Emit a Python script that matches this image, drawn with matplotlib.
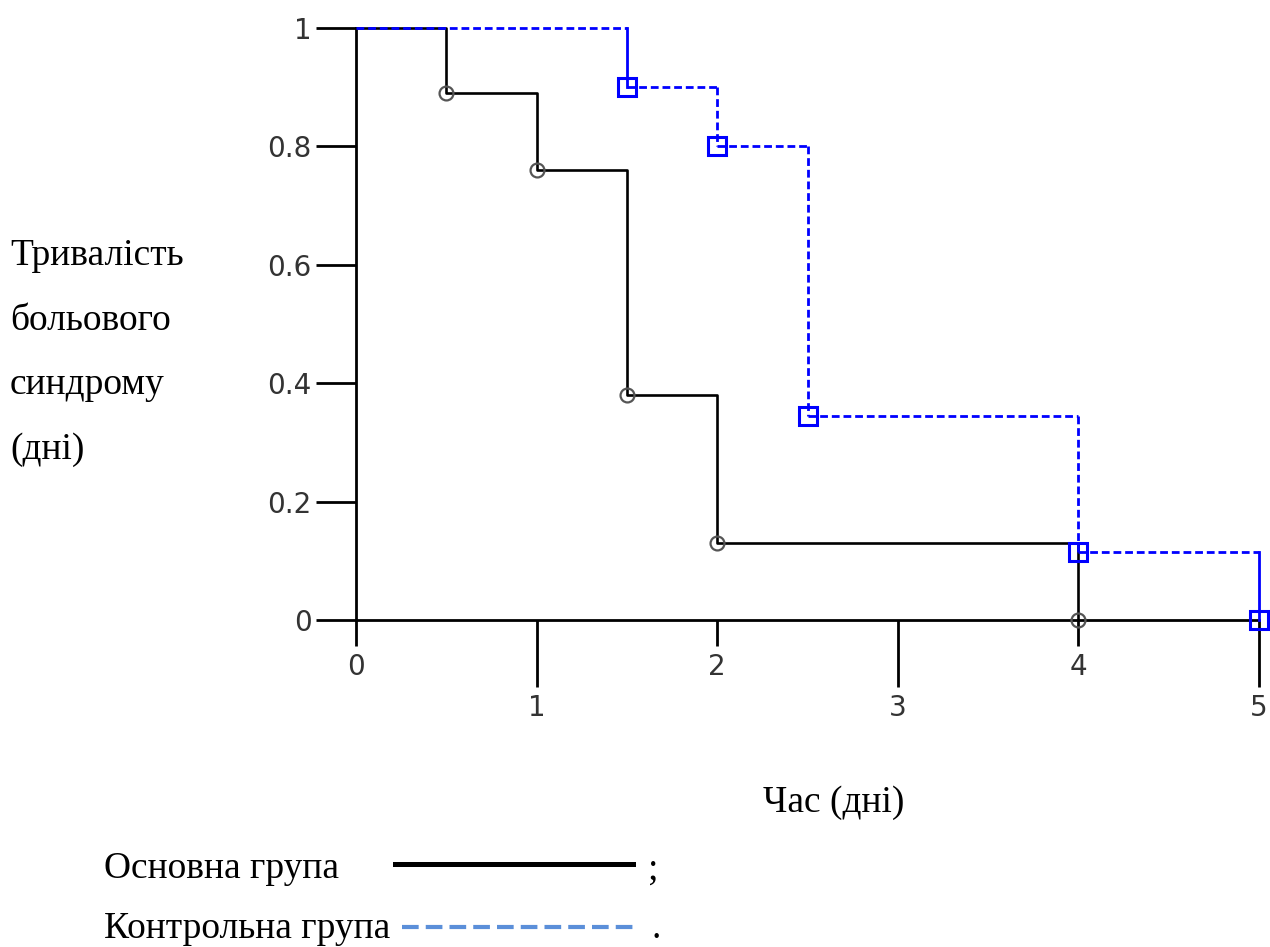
import numpy as np
import matplotlib.pyplot as plt
from matplotlib.lines import Line2D
from matplotlib.ticker import FixedLocator, FixedFormatter

# survival steps
main_t = [0, 0.5, 1, 1.5, 2, 4]
main_s = [1, 0.89, 0.76, 0.38, 0.13, 0]
ctrl_t = [0, 1.5, 2, 2.5, 4, 5]
ctrl_s = [1, 0.9, 0.8, 0.345, 0.115, 0]

ylabel_lines = ["Тривалість", "больового", "синдрому", "(дні)"]
xlabel = "Час (дні)"
legend_names = ["Основна група", "Контрольна група"]

W, H = 1270, 947
fig = plt.figure(figsize=(W / 100, H / 100), dpi=100)
ax = fig.add_axes([356 / W, (H - 620) / H, 903 / W, 592 / H])
ax.set_xlim(0, 5)
ax.set_ylim(0, 1)
ax.patch.set_visible(False)

for side in ["top", "right"]:
    ax.spines[side].set_visible(False)
for side in ["left", "bottom"]:
    ax.spines[side].set_linewidth(2)

tick_col = "#333333"
# y ticks
ax.yaxis.set_major_locator(FixedLocator([0, 0.2, 0.4, 0.6, 0.8, 1]))
ax.yaxis.set_major_formatter(FixedFormatter(["0", "0.2", "0.4", "0.6", "0.8", "1"]))
ax.tick_params(axis="y", direction="out", length=29, width=2, pad=3,
               labelsize=20, labelcolor=tick_col)

# x ticks: even ones short, odd ones long
ax.xaxis.set_major_locator(FixedLocator([0, 2, 4]))
ax.xaxis.set_major_formatter(FixedFormatter(["0", "2", "4"]))
ax.xaxis.set_minor_locator(FixedLocator([1, 3, 5]))
ax.xaxis.set_minor_formatter(FixedFormatter(["1", "3", "5"]))
ax.tick_params(axis="x", which="major", direction="out", length=19, width=2,
               pad=5, labelsize=20, labelcolor=tick_col)
ax.tick_params(axis="x", which="minor", direction="out", length=48, width=2,
               pad=5, labelsize=20, labelcolor=tick_col)
for lab in ax.get_yticklabels():
    lab.set_family("DejaVu Sans")
for lab in ax.get_xticklabels(which="both"):
    lab.set_family("DejaVu Sans")

# main group - solid black steps
ax.step(main_t, main_s, where="post", color="black", lw=1.9, clip_on=False, zorder=3)
ax.plot(main_t[1:], main_s[1:], "o", ms=10, mfc="none", mec="#555555", mew=1.6,
        clip_on=False, zorder=4)

# control group - blue, dashed horizontals, first and last drops solid
blue = "#0000ff"
n = len(ctrl_t)
for i in range(1, n):
    ax.plot([ctrl_t[i - 1], ctrl_t[i]], [ctrl_s[i - 1], ctrl_s[i - 1]], color=blue,
            lw=2, dashes=(2.8, 1.4), clip_on=False, zorder=5)
    if i in (1, n - 1):
        ax.plot([ctrl_t[i], ctrl_t[i]], [ctrl_s[i - 1], ctrl_s[i]], color=blue,
                lw=2, clip_on=False, zorder=5)
    else:
        ax.plot([ctrl_t[i], ctrl_t[i]], [ctrl_s[i - 1], ctrl_s[i]], color=blue,
                lw=2, dashes=(2.8, 1.4), clip_on=False, zorder=5)
ax.plot(ctrl_t[1:], ctrl_s[1:], "s", ms=13, mfc="none", mec=blue, mew=2.2,
        clip_on=False, zorder=6)

serif = "Liberation Serif"
fs = 27
for k, line in enumerate(ylabel_lines):
    fig.text(10 / W, 1 - (256 + 64.5 * k) / H, line, family=serif, fontsize=fs,
             ha="left", va="center")
fig.text(834 / W, 1 - 803 / H, xlabel, family=serif, fontsize=fs,
         ha="center", va="center")

fig.text(104 / W, 1 - 869 / H, legend_names[0], family=serif, fontsize=fs,
         ha="left", va="center")
fig.text(104 / W, 1 - 929 / H, legend_names[1], family=serif, fontsize=fs,
         ha="left", va="center")
fig.add_artist(Line2D([395 / W, 633 / W], [1 - 864 / H, 1 - 864 / H],
                      color="black", lw=3.6, transform=fig.transFigure))
fig.add_artist(Line2D([402 / W, 633 / W], [1 - 927 / H, 1 - 927 / H],
                      color="#5b8fd9", lw=3, dashes=(4, 1.7), transform=fig.transFigure))
fig.text(648 / W, 1 - 869 / H, ";", family=serif, fontsize=fs, ha="left", va="center")
fig.text(652 / W, 1 - 929 / H, ".", family=serif, fontsize=fs, ha="left", va="center")

fig.savefig("out.png", dpi=100)
